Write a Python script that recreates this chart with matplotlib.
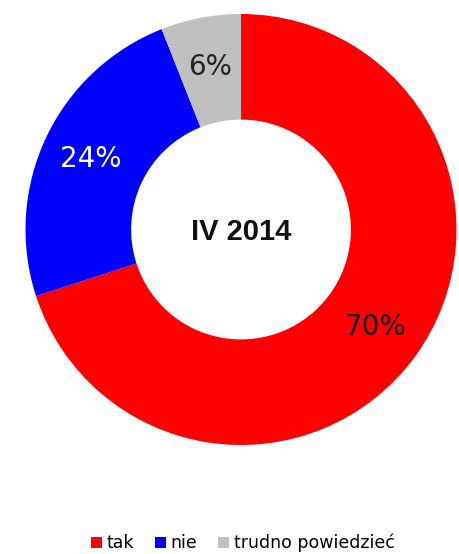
import matplotlib.pyplot as plt
from matplotlib.patches import Patch

categories = ["tak", "nie", "trudno powiedzieć"]
values = [70, 24, 6]
colors = ["#ff0000", "#0000ff", "#c0c0c0"]
label_colors = ["#111111", "white", "#222222"]
center_text = "IV 2014"

W, H = 460, 554
fig = plt.figure(figsize=(W / 100, H / 100), dpi=100)

# donut centre (241, 229.5) px from top-left, radius 215.5 px
cx, cy, r = 241, 229.5, 215.5
ax = fig.add_axes([(cx - r) / W, (H - cy - r) / H, 2 * r / W, 2 * r / H])

wedges, _, autotexts = ax.pie(
    values,
    colors=colors,
    startangle=90,
    counterclock=False,
    radius=1,
    wedgeprops=dict(width=0.49, edgecolor="none"),
    autopct=lambda p: f"{p:.0f}%",
    pctdistance=0.77,
)
for t, c in zip(autotexts, label_colors):
    t.set_color(c)
    t.set_fontsize(20)
    t.set_family("DejaVu Sans")

ax.text(0, -0.01, center_text, ha="center", va="center",
        fontsize=21, fontweight="bold", family="Liberation Sans", color="#111111")
ax.set_xlim(-1, 1)
ax.set_ylim(-1, 1)
ax.set_aspect("equal")
ax.axis("off")

handles = [Patch(facecolor=c, edgecolor="none") for c in colors]
fig.legend(
    handles, categories,
    loc="center", bbox_to_anchor=(243 / W, 1 - 543 / H),
    ncol=3, frameon=False, fontsize=12.5,
    handlelength=0.6, handleheight=0.6, handletextpad=0.3, columnspacing=1.2,
    prop={"family": "DejaVu Sans", "size": 12.5},
)

fig.savefig("out.png", dpi=100)
